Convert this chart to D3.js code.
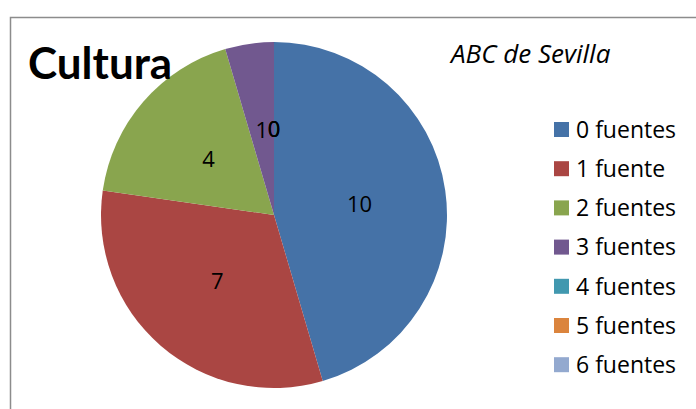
<!DOCTYPE html>
<html>
<head>
<meta charset="utf-8">
<script src="https://cdn.jsdelivr.net/npm/d3@7"></script>
<style>
  body { margin: 0; background: #fff; }
  text { font-family: "Open Sans", Lato, sans-serif; fill: #000; }
</style>
</head>
<body>
<div id="chart"></div>
<script>
const width = 696;
const height = 409;

const categories = ["0 fuentes", "1 fuente", "2 fuentes", "3 fuentes", "4 fuentes", "5 fuentes", "6 fuentes"];
const values = [10, 7, 4, 1, 0, 0, 0];
const colors = ["#4572a7", "#aa4643", "#89a54e", "#71588f", "#4198af", "#db843d", "#93a9cf"];

const svg = d3.select("#chart")
    .append("svg")
    .attr("width", width)
    .attr("height", height);

// chart frame
svg.append("path")
    .attr("d", `M10.5,${height} V17.5 H${width}`)
    .attr("fill", "none")
    .attr("stroke", "#8c8c8c")
    .attr("stroke-width", 1.5);

const cx = 274, cy = 215, radius = 173;

const pie = d3.pie().sort(null).value(d => d.value);
const arcs = pie(categories.map((c, i) => ({ name: c, value: values[i], color: colors[i] })));

const arc = d3.arc().innerRadius(0).outerRadius(radius);

const g = svg.append("g").attr("transform", `translate(${cx},${cy})`);

g.selectAll("path.slice")
    .data(arcs)
    .enter()
    .append("path")
    .attr("class", "slice")
    .attr("d", arc)
    .attr("fill", d => d.data.color);

g.selectAll("text.lbl")
    .data(arcs)
    .enter()
    .append("text")
    .attr("class", "lbl")
    .attr("transform", d => `translate(${arc.centroid(d)})`)
    .attr("text-anchor", "middle")
    .attr("dy", "0.4em")
    .style("font-size", "22px")
    .text(d => d.data.value);

svg.append("text")
    .attr("x", 28)
    .attr("y", 79)
    .style("font-family", "Lato, sans-serif")
    .style("font-size", "44px")
    .style("font-weight", "bold")
    .text("Cultura");

svg.append("text")
    .attr("x", 451)
    .attr("y", 63)
    .style("font-size", "26px")
    .style("font-style", "italic")
    .text("ABC de Sevilla");

const legend = svg.append("g").attr("transform", "translate(554,129.5)");
const rows = legend.selectAll("g")
    .data(categories)
    .enter()
    .append("g")
    .attr("transform", (d, i) => `translate(0,${i * 39.2})`);

rows.append("rect")
    .attr("x", 0)
    .attr("y", -7.5)
    .attr("width", 15)
    .attr("height", 15)
    .attr("fill", (d, i) => colors[i]);

rows.append("text")
    .attr("x", 22)
    .attr("dy", "0.36em")
    .style("font-size", "23px")
    .text(d => d);
</script>
</body>
</html>
